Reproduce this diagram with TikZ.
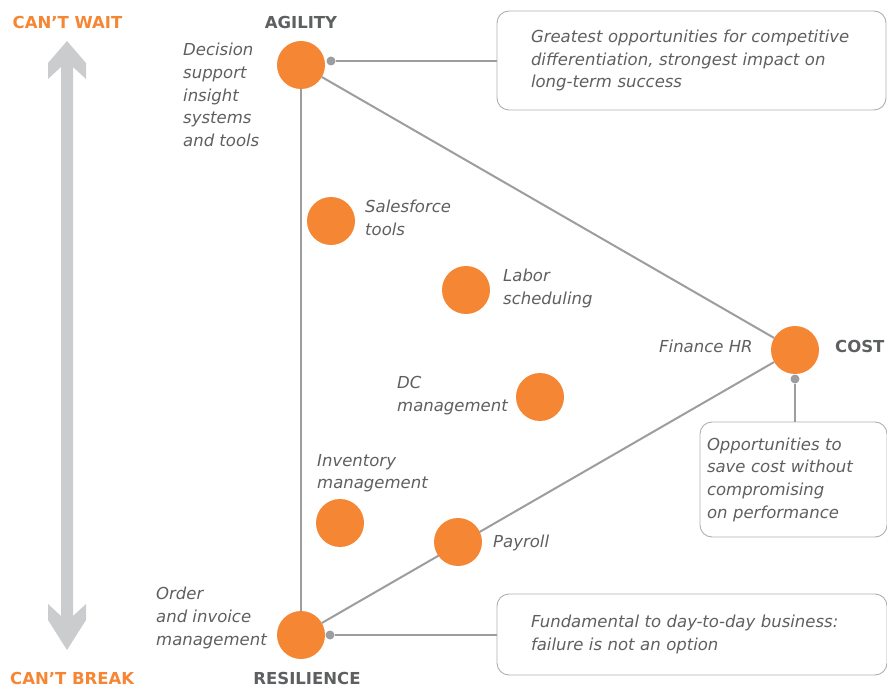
\documentclass[tikz,border=0pt]{standalone}
\usepackage{fontspec}
\setmainfont{DejaVu Sans}
\usetikzlibrary{positioning,calc}
\definecolor{brandorange}{HTML}{F58634}
\definecolor{ink}{HTML}{5E5F61}
\definecolor{rule}{HTML}{9C9DA0}
\definecolor{hair}{HTML}{AEAFB2}
\definecolor{track}{HTML}{CBCCCE}
\newcommand{\noteface}{\fontsize{16.5}{22.7}\selectfont\itshape}
\newcommand{\headface}{\fontsize{16.5}{20}\selectfont\bfseries}
\tikzset{
  ball/.style={circle, fill=brandorange, minimum size=48pt, inner sep=0pt},
  pin/.style={circle, fill=rule, minimum size=9pt, inner sep=0pt},
  note/.style={draw=hair, line width=0.9pt, rounded corners=12pt, align=left, font=\noteface, text=ink, inner ysep=0pt},
  tag/.style={font=\noteface, text=ink, align=left, inner sep=0pt},
  head/.style={font=\headface, text=ink, inner sep=0pt},
  pole/.style={font=\headface, text=brandorange, inner sep=0pt},
  link/.style={draw=rule, line width=2pt},
  lead/.style={draw=rule, line width=1.2pt},
}

\begin{document}
\begin{tikzpicture}[x=1pt,y=-1pt]
  \useasboundingbox (0,0) rectangle (887,687);
  % urgency scale
  \fill[track] (67,41) -- (86,63) -- (86,79) -- (73,67) -- (73,616) -- (86,604) -- (86,620) -- (67,650)
    -- (48,620) -- (48,604) -- (61,616) -- (61,67) -- (48,79) -- (48,63) -- cycle;
  \node[pole] (cantwait) at (67.5,22) {CAN’T WAIT};
  \node[pole, anchor=west] (cantbreak) at (10,678) {CAN’T BREAK};
  % corners of the triangle
  \node[ball] (agility) at (301,65) {};
  \node[ball] (cost) at (795,350) {};
  \node[ball] (resilience) at (301,635) {};
  \draw[link] (agility) -- (resilience);
  \draw[link] (agility) -- (cost);
  \draw[link] (resilience) -- (cost);
  \node[head] (agilitytxt) at (301,22) {AGILITY};
  \node[head] (resiltxt) at (307,678) {RESILIENCE};
  \node[head, anchor=west] (costtxt) at (835,346) {COST};
  % systems
  \node[ball] (salesforce) at (331,221) {};
  \node[ball] (labor) at (466,290) {};
  \node[ball] (dc) at (540,397) {};
  \node[ball] (inventory) at (340,523) {};
  \node[ball] (payroll) at (458,542) {};
  \node[tag, anchor=north west] (decisiontxt) at (183,43) {Decision\\support\\insight\\systems\\and tools};
  \node[tag, anchor=north west] (salesforcetxt) at (365,200) {Salesforce\\tools};
  \node[tag, anchor=north west] (labortxt) at (503,269) {Labor\\scheduling};
  \node[tag, anchor=west] (financetxt) at (659,346) {Finance HR};
  \node[tag, anchor=north west] (dctxt) at (397,376) {DC\\management};
  \node[tag, anchor=north west] (inventorytxt) at (317,454) {Inventory\\management};
  \node[tag, anchor=west] (payrolltxt) at (493,543) {Payroll};
  \node[tag, anchor=north west] (ordertxt) at (156,587) {Order\\and invoice\\management};
  % call-outs
  \node[note, minimum height=99pt, text width=321pt, inner xsep=34pt] (agilitynote) at (691.5,60.5)
    {Greatest opportunities for competitive\\differentiation, strongest impact on\\long-term success};
  \node[note, minimum height=115pt, text width=173pt, inner xsep=7pt] (costnote) at (793.5,479.5)
    {Opportunities to\\save cost without\\compromising\\on performance};
  \node[note, minimum height=81pt, text width=322pt, inner xsep=34pt] (resilnote) at (692,634.5)
    {Fundamental to day-to-day business:\\failure is not an option};
  \node[pin] (agilitypin) at (331,61) {};
  \node[pin] (costpin) at (795,379) {};
  \node[pin] (resilpin) at (330,635) {};
  \draw[lead] (agilitypin) -- (agilitypin -| agilitynote.west);
  \draw[lead] (costpin) -- (costpin |- costnote.north);
  \draw[lead] (resilpin) -- (resilpin -| resilnote.west);
\end{tikzpicture}
\end{document}
